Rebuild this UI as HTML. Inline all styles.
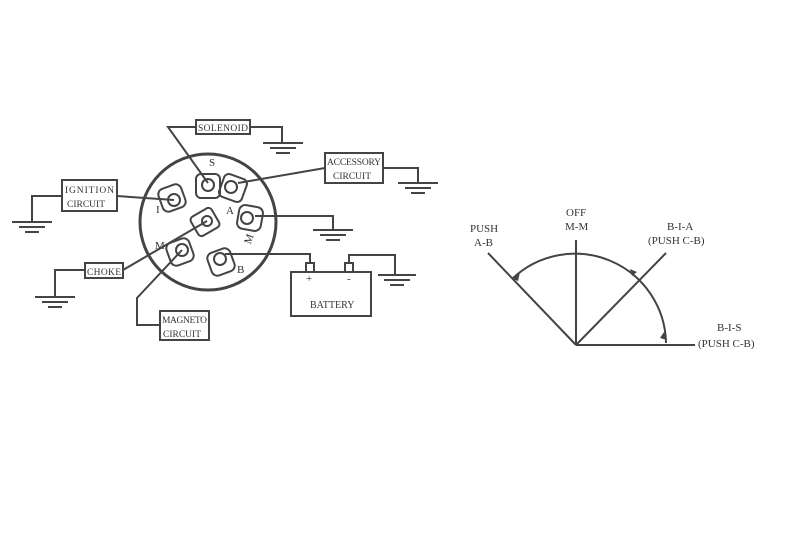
<!DOCTYPE html>
<html><head><style>
html,body{margin:0;padding:0;background:#fff;}
svg{display:block;}
text{font-family:"Liberation Serif",serif;fill:#333;}
</style></head><body>
<svg width="800" height="533" viewBox="0 0 800 533" xmlns="http://www.w3.org/2000/svg">
<g stroke="#444" stroke-width="2" fill="none">
<circle cx="208" cy="222" r="68" stroke-width="3"/>
<g stroke-width="2">
<rect x="196" y="174" width="24" height="24" rx="5"/><circle cx="208" cy="185" r="6"/>
<rect x="221" y="176" width="24" height="24" rx="5" transform="rotate(20 233 188)"/><circle cx="231" cy="187" r="6"/>
<rect x="160" y="186" width="24" height="24" rx="6" transform="rotate(-20 172 198)"/><circle cx="174" cy="200" r="6"/>
<rect x="238" y="206" width="24" height="24" rx="6" transform="rotate(10 250 218)"/><circle cx="247" cy="218" r="6"/>
<rect x="193" y="211" width="24" height="22" rx="4" transform="rotate(-30 205 222)"/><circle cx="207" cy="221" r="5"/>
<rect x="168" y="240" width="24" height="24" rx="6" transform="rotate(-20 180 252)"/><circle cx="182" cy="250" r="6"/>
<rect x="209" y="250" width="24" height="24" rx="6" transform="rotate(-20 221 262)"/><circle cx="220" cy="259" r="6"/>
</g>
<rect x="196" y="120" width="54" height="14"/>
<rect x="325" y="153" width="58" height="30"/>
<rect x="62" y="180" width="55" height="31"/>
<rect x="85" y="263" width="38" height="15"/>
<rect x="160" y="311" width="49" height="29"/>
<rect x="291" y="272" width="80" height="44"/>
<rect x="306" y="263" width="8" height="9"/><rect x="345" y="263" width="8" height="9"/>
<polyline points="208,183 168,127 196,127"/>
<polyline points="250,127 282,127 282,143"/>
<polyline points="238,183 325,168"/>
<polyline points="383,168 418,168 418,183"/>
<polyline points="117,196 174,200"/>
<polyline points="62,196 32,196 32,222"/>
<polyline points="255,216 333,216 333,230"/>
<polyline points="123,270 207,221"/>
<polyline points="85,270 55,270 55,297"/>
<polyline points="182,250 137,298 137,325 160,325"/>
<polyline points="225,254 310,254 310,263"/>
<polyline points="349,263 349,255 395,255 395,275"/>
<g stroke-width="2">
<line x1="263" y1="143" x2="303" y2="143"/><line x1="270" y1="148" x2="296" y2="148"/><line x1="276" y1="153" x2="290" y2="153"/>
<line x1="398" y1="183" x2="438" y2="183"/><line x1="405" y1="188" x2="431" y2="188"/><line x1="411" y1="193" x2="425" y2="193"/>
<line x1="12" y1="222" x2="52" y2="222"/><line x1="19" y1="227" x2="45" y2="227"/><line x1="25" y1="232" x2="39" y2="232"/>
<line x1="313" y1="230" x2="353" y2="230"/><line x1="320" y1="235" x2="346" y2="235"/><line x1="326" y1="240" x2="340" y2="240"/>
<line x1="35" y1="297" x2="75" y2="297"/><line x1="42" y1="302" x2="68" y2="302"/><line x1="48" y1="307" x2="62" y2="307"/>
<line x1="378" y1="275" x2="416" y2="275"/><line x1="384" y1="280" x2="410" y2="280"/><line x1="390" y1="285" x2="404" y2="285"/>
</g>
<line x1="576" y1="345" x2="576" y2="240"/>
<line x1="576" y1="345" x2="695" y2="345"/>
<line x1="576" y1="345" x2="488" y2="253"/>
<line x1="576" y1="345" x2="666" y2="253"/>
<path d="M512,279 A91,91 0 0 1 666,343"/>
</g>
<g fill="#444">
<polygon points="513,279 520,272 518,281"/>
<polygon points="630,269 637,272 632,276"/>
<polygon points="664,332 667,340 660,338"/>
</g>
<g font-size="11">
<text x="198" y="131" font-size="9.5" textLength="50">SOLENOID</text>
<text x="327" y="165" font-size="9.5" textLength="54">ACCESSORY</text><text x="333" y="179" font-size="9.5">CIRCUIT</text>
<text x="65" y="193" font-size="9.5" textLength="49">IGNITION</text><text x="67" y="207" font-size="9.5">CIRCUIT</text>
<text x="87" y="275" font-size="9.5" textLength="34">CHOKE</text>
<text x="162" y="323" font-size="9.5" textLength="45">MAGNETO</text><text x="163" y="337" font-size="9.5">CIRCUIT</text>
<text x="310" y="308" font-size="10">BATTERY</text>
<text x="306" y="282" font-size="11">+</text><text x="347" y="282" font-size="11">-</text>
<text x="209" y="166">S</text><text x="226" y="214">A</text><text x="156" y="213">I</text>
<text x="245" y="243" transform="rotate(-70 249 240)">M</text>
<text x="155" y="249">M</text><text x="237" y="273">B</text>
<text x="566" y="216">OFF</text><text x="565" y="230">M-M</text>
<text x="470" y="232">PUSH</text><text x="474" y="246">A-B</text>
<text x="667" y="230">B-I-A</text><text x="648" y="244">(PUSH C-B)</text>
<text x="717" y="331">B-I-S</text><text x="698" y="347">(PUSH C-B)</text>
</g>
</svg>
</body></html>
